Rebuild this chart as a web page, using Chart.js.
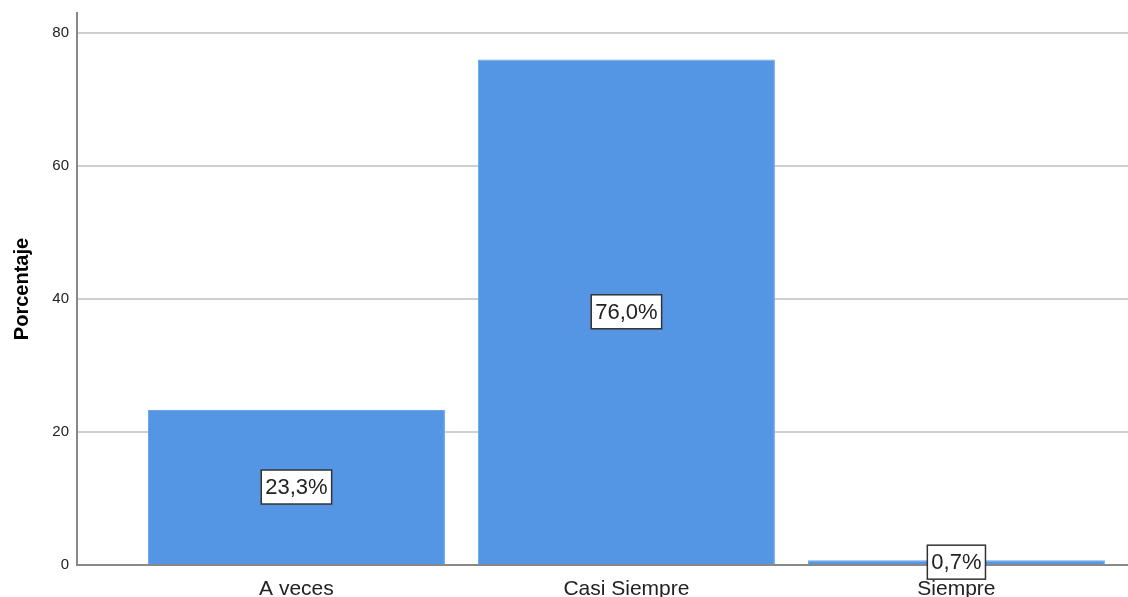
<!DOCTYPE html>
<html>
<head>
    <title>Porcentaje</title>
    <script src="https://cdn.jsdelivr.net/npm/chart.js@4/dist/chart.umd.min.js"></script>
    <style>
        body { margin: 0; padding: 0; background: #fff; overflow: hidden; }
        #wrap { width: 1128px; height: 597px; }
    </style>
</head>
<body>
    <div id="wrap"><canvas id="myChart" width="1128" height="597"></canvas></div>
    <script>
        // datos del gráfico
        const categorias = ['A veces', 'Casi Siempre', 'Siempre'];
        const porcentajes = [23.3, 76.0, 0.7];
        const etiquetas = ['23,3%', '76,0%', '0,7%'];
        const ticksY = [0, 20, 40, 60, 80];

        // etiquetas en caja blanca en medio de cada barra
        const cajas = {
            id: 'cajas',
            afterDatasetsDraw(chart) {
                const ctx = chart.ctx;
                const meta = chart.getDatasetMeta(0);
                ctx.save();
                ctx.font = '22px "Liberation Sans", Arial, sans-serif';
                ctx.textAlign = 'center';
                ctx.textBaseline = 'middle';
                meta.data.forEach((bar, i) => {
                    const txt = etiquetas[i];
                    const cx = bar.x;
                    const cy = (bar.y + bar.base) / 2;
                    const w = ctx.measureText(txt).width + 8;
                    const h = 34;
                    ctx.fillStyle = '#fff';
                    ctx.fillRect(cx - w / 2, cy - h / 2, w, h);
                    ctx.strokeStyle = '#333';
                    ctx.lineWidth = 1.5;
                    ctx.strokeRect(cx - w / 2, cy - h / 2, w, h);
                    ctx.fillStyle = '#222';
                    ctx.fillText(txt, cx, cy + 1);
                });
                ctx.restore();
            }
        };

        const ctx = document.getElementById('myChart').getContext('2d');
        new Chart(ctx, {
            type: 'bar',
            data: {
                datasets: [{
                    data: porcentajes.map((v, i) => ({ x: i, y: v })),
                    backgroundColor: '#5596E4',
                    borderColor: '#6aa5ec',
                    borderWidth: 1,
                    barPercentage: 1,
                    categoryPercentage: 0.9
                }]
            },
            options: {
                responsive: false,
                animation: false,
                layout: { padding: { top: 13, right: 0, left: 0, bottom: 0 } },
                plugins: {
                    legend: { display: false },
                    tooltip: { enabled: false }
                },
                scales: {
                    x: {
                        type: 'linear',
                        offset: false,
                        min: -0.665,
                        max: 2.52,
                        afterBuildTicks: s => { s.ticks = categorias.map((c, i) => ({ value: i })); },
                        afterFit: s => { s.height = 32; s.paddingLeft = 0; s.paddingRight = 0; },
                        grid: { display: false, drawTicks: false, offset: false },
                        border: { color: '#888', width: 2 },
                        ticks: {
                            padding: 12,
                            color: '#222',
                            font: { family: '"Liberation Sans", Arial, sans-serif', size: 21 },
                            callback: v => categorias[v]
                        }
                    },
                    y: {
                        min: 0,
                        max: 83,
                        afterBuildTicks: s => { s.ticks = ticksY.map(v => ({ value: v })); },
                        afterFit: s => { s.width = 77; s.paddingTop = 0; s.paddingBottom = 0; },
                        grid: { color: '#cfcfcf', lineWidth: 2, drawTicks: false },
                        border: { color: '#888', width: 2 },
                        title: {
                            display: true,
                            text: 'Porcentaje',
                            color: '#000',
                            padding: { top: 10, bottom: 0 },
                            font: { family: '"Liberation Sans", Arial, sans-serif', size: 20, weight: 'bold' }
                        },
                        ticks: {
                            padding: 8,
                            color: '#222',
                            font: { family: '"Liberation Sans", Arial, sans-serif', size: 15 }
                        }
                    }
                }
            },
            plugins: [cajas]
        });
    </script>
</body>
</html>
